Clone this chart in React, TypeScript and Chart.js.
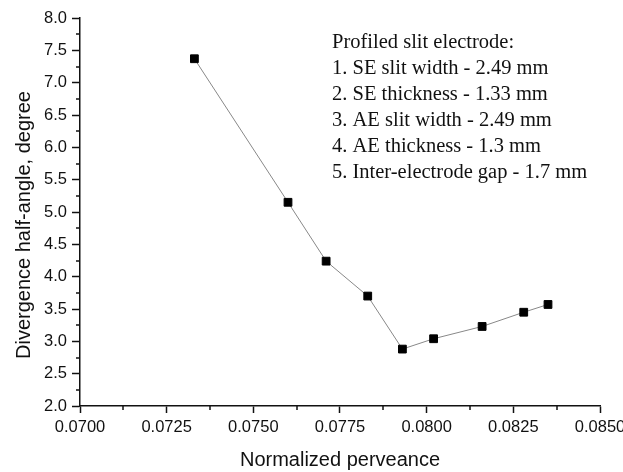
import React, { useEffect, useRef } from "react";
import { Chart, registerables } from "chart.js";

Chart.register(...registerables);

const perveance = [0.0733, 0.0760, 0.0771, 0.0783, 0.0793, 0.0802, 0.0816, 0.0828, 0.0835];
const divergence = [7.37, 5.15, 4.24, 3.70, 2.88, 3.04, 3.23, 3.45, 3.57];

const xTitle = "Normalized perveance";
const yTitle = "Divergence half-angle, degree";
const annotationLines = [
  "Profiled slit electrode:",
  "1. SE slit width - 2.49 mm",
  "2. SE thickness - 1.33 mm",
  "3. AE slit width - 2.49 mm",
  "4. AE thickness - 1.3 mm",
  "5. Inter-electrode gap - 1.7 mm",
];

const INK = "#111";
const SANS = "'Liberation Sans', Arial, sans-serif";
const SERIF = "'Liberation Serif', 'Times New Roman', serif";

const decorPlugin = {
  id: "decor",
  afterDraw(chart: any) {
    const ctx = chart.ctx;
    const xs = chart.scales.x;
    const ys = chart.scales.y;
    const area = chart.chartArea;
    ctx.save();
    // minor ticks
    ctx.strokeStyle = INK;
    ctx.lineWidth = 1.5;
    const xt = xs.ticks.map((t: any) => t.value);
    for (let i = 0; i < xt.length - 1; i++) {
      const px = Math.round(xs.getPixelForValue((xt[i] + xt[i + 1]) / 2));
      ctx.beginPath();
      ctx.moveTo(px, area.bottom);
      ctx.lineTo(px, area.bottom + 4);
      ctx.stroke();
    }
    const yt = ys.ticks.map((t: any) => t.value);
    for (let i = 0; i < yt.length - 1; i++) {
      const py = Math.round(ys.getPixelForValue((yt[i] + yt[i + 1]) / 2));
      ctx.beginPath();
      ctx.moveTo(area.left, py);
      ctx.lineTo(area.left - 4, py);
      ctx.stroke();
    }
    // y title
    ctx.fillStyle = INK;
    ctx.font = `20px ${SANS}`;
    ctx.textAlign = "center";
    ctx.textBaseline = "middle";
    ctx.translate(24, (area.top + area.bottom) / 2 + 13);
    ctx.rotate(-Math.PI / 2);
    ctx.fillText(yTitle, 0, 0);
    ctx.restore();

    // annotation
    ctx.save();
    ctx.fillStyle = INK;
    ctx.font = `20.5px ${SERIF}`;
    ctx.textAlign = "left";
    ctx.textBaseline = "middle";
    annotationLines.forEach((line, i) => {
      ctx.fillText(line, 332, 43 + i * 26);
    });
    ctx.restore();
  },
};

export default function App() {
  const canvasRef = useRef<HTMLCanvasElement | null>(null);

  useEffect(() => {
    if (!canvasRef.current) return;
    const chart = new Chart(canvasRef.current, {
      type: "scatter",
      data: {
        datasets: [
          {
            data: perveance.map((x, i) => ({ x, y: divergence[i] })),
            showLine: true,
            borderColor: "#888",
            borderWidth: 1,
            pointStyle: "rect",
            pointRadius: 5.5,
            pointHoverRadius: 5.5,
            pointBackgroundColor: "#000",
            pointBorderColor: "#000",
            pointBorderWidth: 1,
          },
        ],
      },
      options: {
        animation: false,
        responsive: true,
        maintainAspectRatio: false,
        layout: { padding: { top: 18, right: 23, left: 0, bottom: 0 } },
        plugins: { legend: { display: false }, tooltip: { enabled: false } },
        scales: {
          x: {
            type: "linear",
            min: 0.07,
            max: 0.085,
            ticks: {
              stepSize: 0.0025,
              callback: (v: any) => Number(v).toFixed(4),
              font: { family: SANS, size: 16.5 },
              color: INK,
              padding: 5,
              maxRotation: 0,
              autoSkip: false,
            },
            grid: {
              display: true,
              drawOnChartArea: false,
              drawTicks: true,
              tickLength: 7,
              tickColor: INK,
              tickWidth: 1.5,
            },
            border: { display: true, color: INK, width: 1.5 },
            title: {
              display: true,
              text: xTitle,
              font: { family: SANS, size: 20 },
              color: INK,
              padding: { top: 0, bottom: 0 },
            },
            afterFit: (s: any) => {
              s.height = 66;
              s.paddingLeft = 0;
              s.paddingRight = 0;
            },
          },
          y: {
            type: "linear",
            min: 2,
            max: 8,
            ticks: {
              stepSize: 0.5,
              callback: (v: any) => Number(v).toFixed(1),
              font: { family: SANS, size: 16.5 },
              color: INK,
              padding: 5,
            },
            grid: {
              display: true,
              drawOnChartArea: false,
              drawTicks: true,
              tickLength: 8,
              tickColor: INK,
              tickWidth: 1.5,
            },
            border: { display: true, color: INK, width: 1.5 },
            afterFit: (s: any) => {
              s.width = 80;
              s.paddingTop = 0;
              s.paddingBottom = 0;
            },
          },
        },
      },
      plugins: [decorPlugin],
    });
    return () => chart.destroy();
  }, []);

  return (
    <div style={{ position: "fixed", left: 0, top: 0, width: 623, height: 472, background: "#fff" }}>
      <canvas ref={canvasRef} />
    </div>
  );
}
